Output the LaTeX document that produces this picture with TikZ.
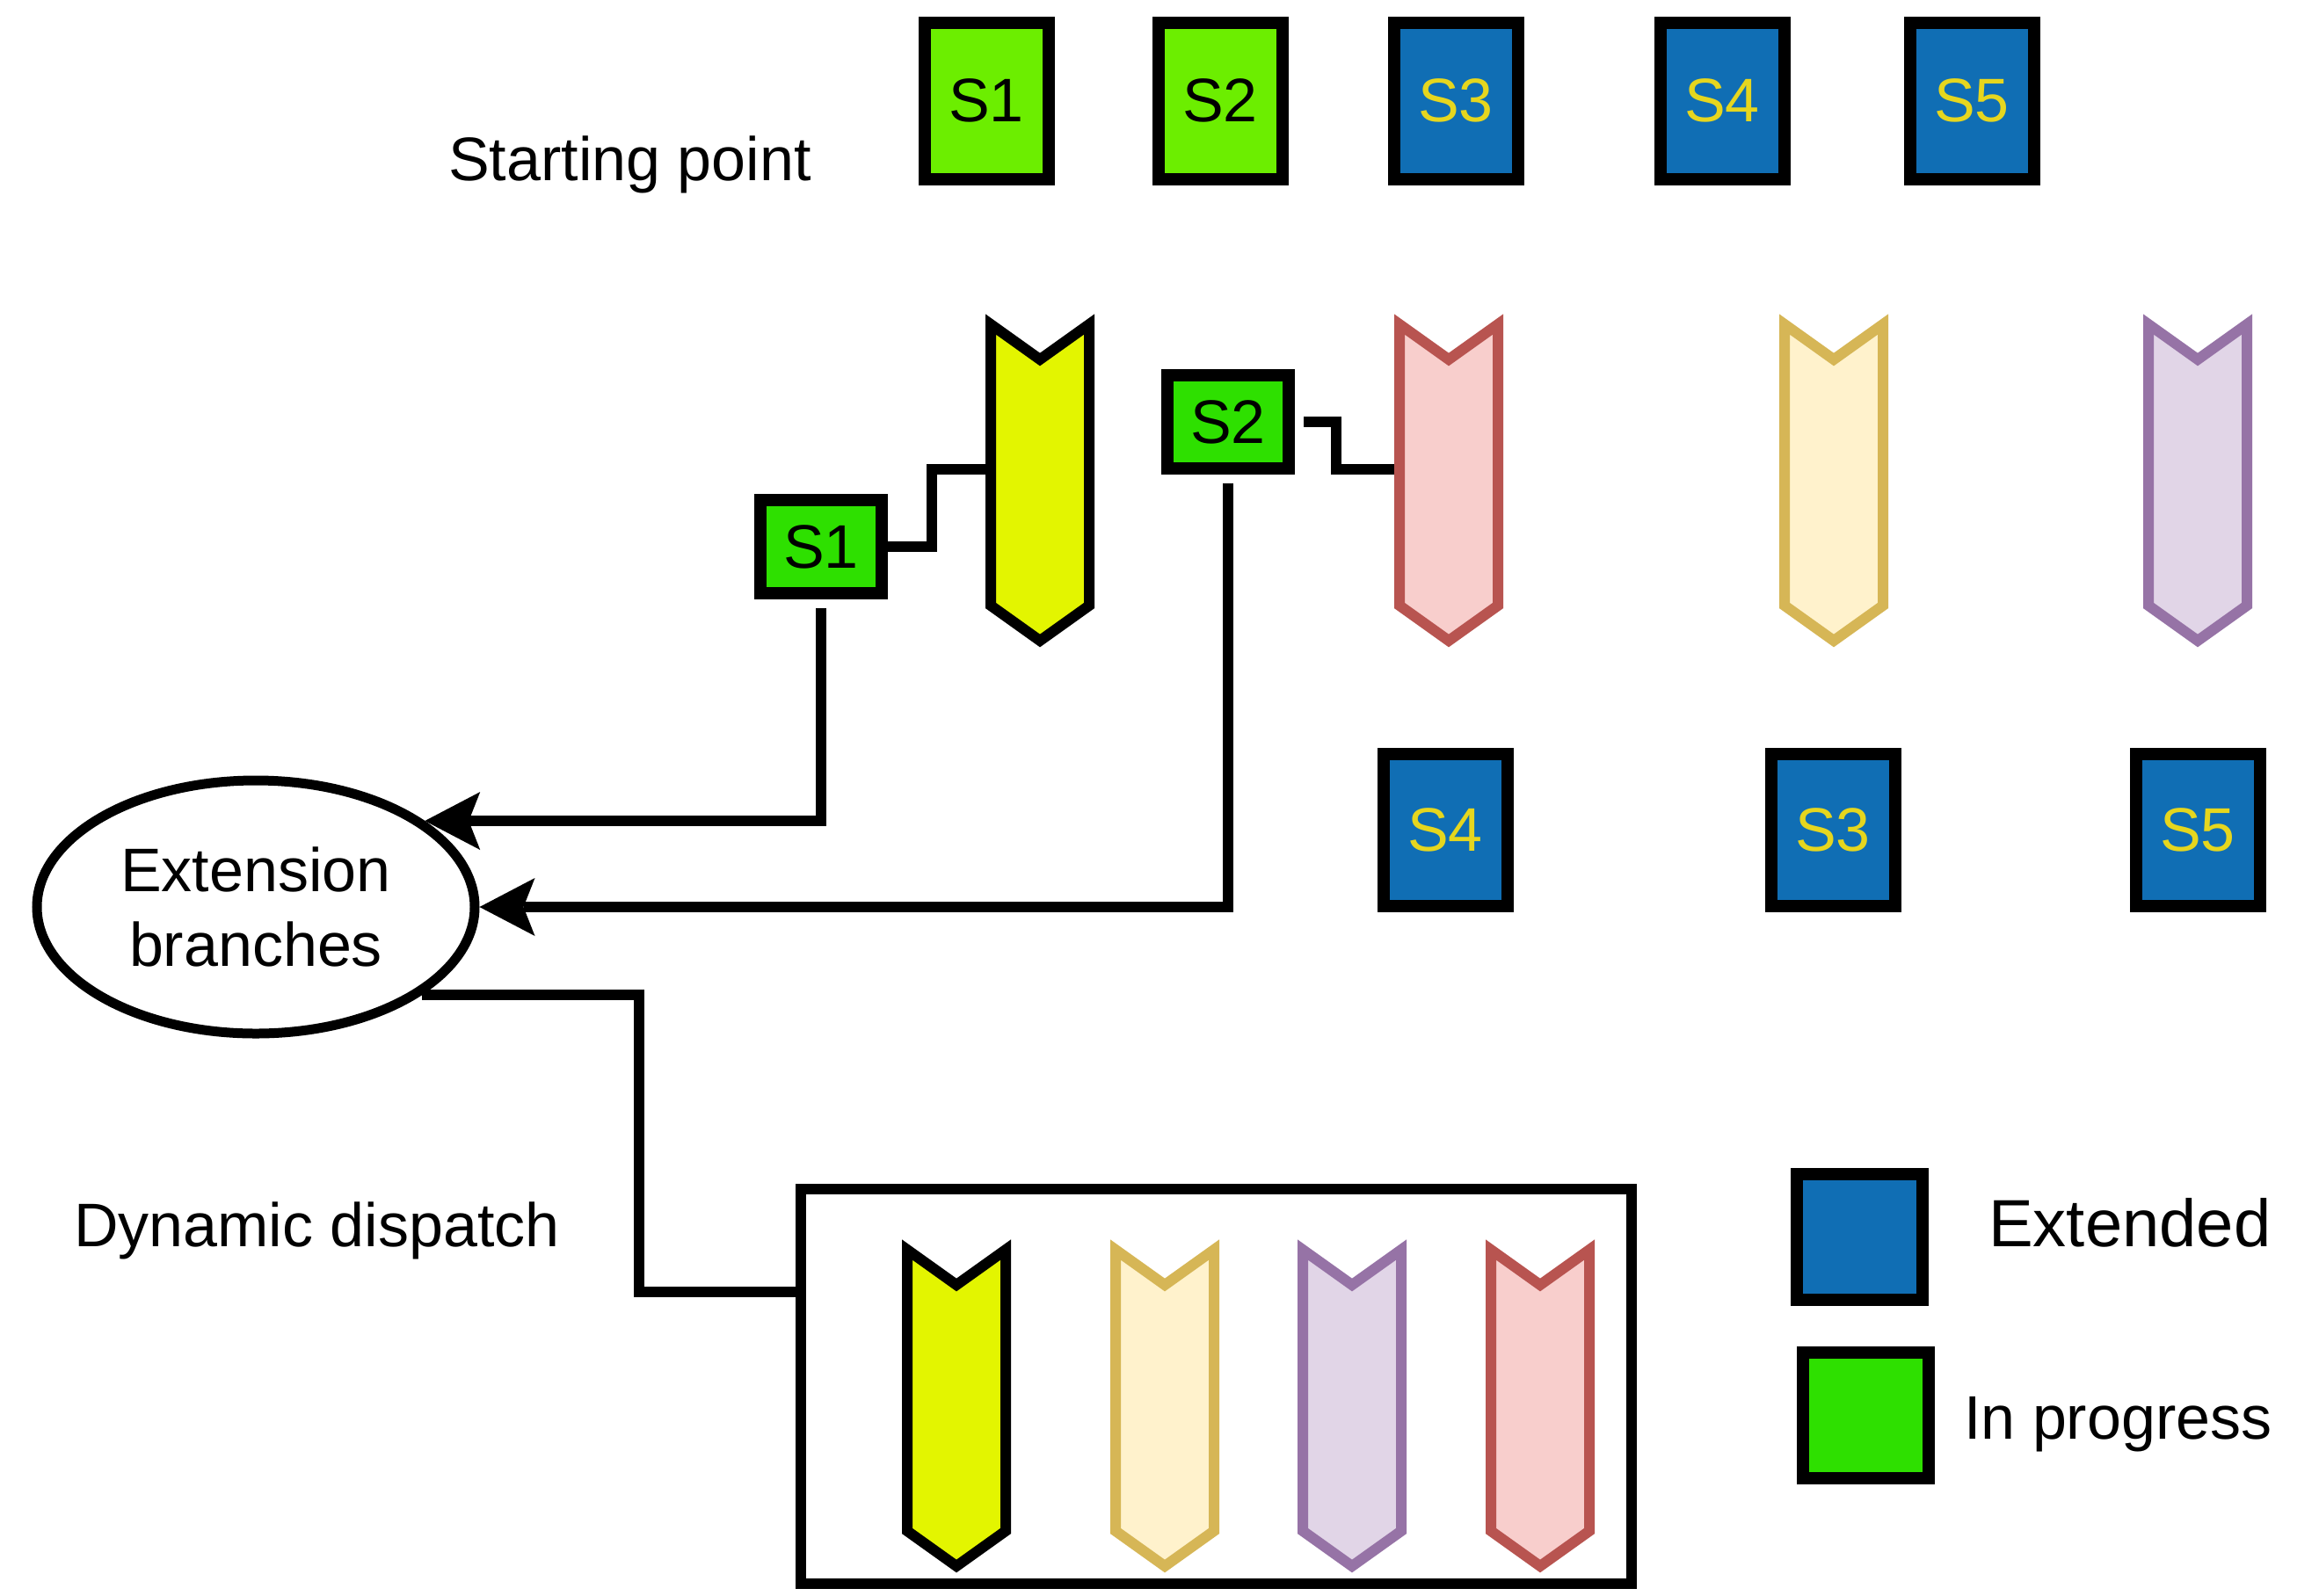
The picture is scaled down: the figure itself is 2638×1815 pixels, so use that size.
\documentclass[tikz,border=0pt]{standalone}
\usepackage{fontspec}
\setmainfont{Liberation Sans}
\usetikzlibrary{arrows.meta,calc,shapes.geometric}

\definecolor{limegreen}{RGB}{108,238,0}
\definecolor{progreen}{RGB}{46,224,0}
\definecolor{extblue}{RGB}{16,110,180}
\definecolor{labyellow}{RGB}{230,214,30}
\definecolor{chevyellow}{RGB}{227,245,0}
\definecolor{pinkfill}{HTML}{F8CECC}
\definecolor{pinkline}{HTML}{B85450}
\definecolor{sandfill}{HTML}{FFF2CC}
\definecolor{sandline}{HTML}{D6B656}
\definecolor{lilacfill}{HTML}{E1D5E7}
\definecolor{lilacline}{HTML}{9673A6}

% ribbon with a notched top and a pointed bottom; a blank node of the same
% name spans its body so that connectors can attach to it
\newcommand\drawchevron[5]{% name, centre x, top y, fill, stroke
  \filldraw[fill=#4, draw=#5, line width=12]
    ({#2-56},#3) -- (#2,{#3+40}) -- ({#2+56},#3) -- ({#2+56},{#3+320})
    -- (#2,{#3+360}) -- ({#2-56},{#3+320}) -- cycle;
  \node[minimum width=124, minimum height=330, inner sep=0pt, anchor=north] (#1) at (#2,#3) {};
}

\tikzset{
  txt/.style={font=\fontsize{70}{85}\selectfont, inner sep=0pt},
  sbox/.style={draw=black, line width=14, inner sep=0pt, font=\fontsize{70}{85}\selectfont},
  tall/.style={sbox, minimum width=141, minimum height=178},
  flat/.style={sbox, minimum width=138, minimum height=106},
  square/.style={sbox, minimum width=143, minimum height=143},
  extended/.style={fill=extblue, text=labyellow},
  started/.style={fill=limegreen, text=black},
  progress/.style={fill=progreen, text=black},
  conn/.style={draw=black, line width=12},
  arr/.style={conn, -{Stealth[length=63pt, width=66pt, inset=13pt, line width=0pt]}},
}

\begin{document}
\begin{tikzpicture}[x=1pt, y=-1pt]
\useasboundingbox (0,0) rectangle (2638,1815);

% starting point
\node[txt, anchor=base west] (startlbl) at (510,205) {Starting point};
\node[tall, started]  (t1) at (1122,114.5) {S1};
\node[tall, started]  (t2) at (1388,114.5) {S2};
\node[tall, extended] (t3) at (1656,114.5) {S3};
\node[tall, extended] (t4) at (1959,114.5) {S4};
\node[tall, extended] (t5) at (2243,114.5) {S5};

% branches
\drawchevron{ych}{1183}{369}{chevyellow}{black}
\drawchevron{pch}{1648}{369}{pinkfill}{pinkline}
\drawchevron{sch}{2086}{369}{sandfill}{sandline}
\drawchevron{lch}{2500}{369}{lilacfill}{lilacline}

\node[flat, progress] (s1m) at (934,622) {S1};
\node[flat, progress] (s2m) at (1397,480) {S2};

\node[tall, extended, minimum height=173] (b4) at (1644,944) {S4};
\node[tall, extended, minimum height=173] (b3) at (2085,944) {S3};
\node[tall, extended, minimum height=173] (b5) at (2500,944) {S5};

\draw[conn] (s1m.east) -| ($(s1m.east)!0.45!(ych.west)$) |- (ych.west);
\draw[conn, shorten <=10pt] (s2m.east) -| ($(s2m.east)!0.42!(pch.west)$) |- (pch.west);

% extension branches
\node[ellipse, draw=black, line width=11, minimum width=498, minimum height=288,
      inner sep=0pt, align=center, font=\fontsize{70}{85}\selectfont]
      (ext) at (291,1032) {Extension\\branches};

\draw[arr, shorten <=10pt] (s1m.south) |- (ext.27);
\draw[arr, shorten <=10pt] (s2m.south) |- (ext.east);

% dynamic dispatch
\node[txt, anchor=base west] (displbl) at (84,1418) {Dynamic dispatch};
\node[draw=black, line width=12, minimum width=945, minimum height=449, inner sep=0pt]
      (disp) at (1383.5,1577.5) {};

\drawchevron{dy}{1088}{1422}{chevyellow}{black}
\drawchevron{ds}{1325}{1422}{sandfill}{sandline}
\drawchevron{dl}{1538}{1422}{lilacfill}{lilacline}
\drawchevron{dp}{1752}{1422}{pinkfill}{pinkline}

\coordinate (dj) at (727,1470);
\draw[conn] (ext.-28) -| (dj) -- (dj -| disp.west);

% legend
\node[square, fill=extblue]  (kext)  at (2115,1407) {};
\node[txt, anchor=base west, font=\fontsize{76}{90}\selectfont] (kextlbl) at (2262,1418) {Extended};
\node[square, fill=progreen] (kprog) at (2122,1610) {};
\node[txt, anchor=base west] (kproglbl) at (2234,1637) {In progress};
\end{tikzpicture}
\end{document}
